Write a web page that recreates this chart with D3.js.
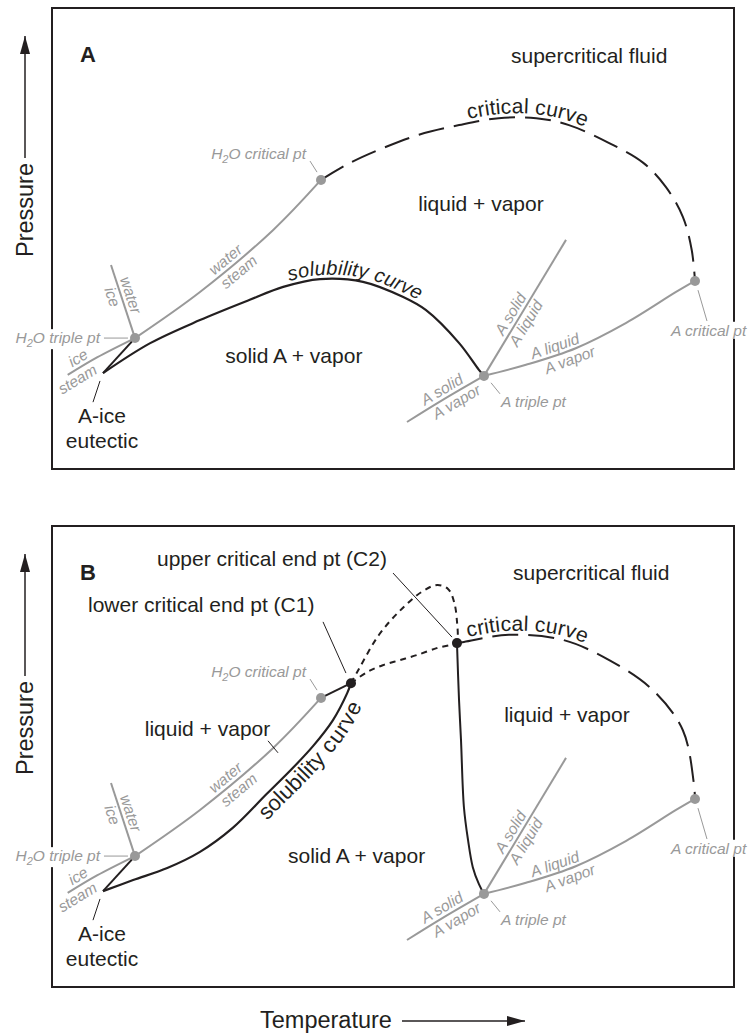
<!DOCTYPE html>
<html>
<head>
<meta charset="utf-8">
<script src="https://cdn.jsdelivr.net/npm/d3@7"></script>
<style>
  body { margin: 0; background: #fff; }
  text { font-family: "Liberation Sans", Arial, Helvetica, sans-serif; }
  .blk { fill: #231f20; font-size: 21px; }
  .grey { fill: #999; font-size: 15.5px; font-style: italic; }
</style>
</head>
<body>
<div id="chart"></div>
<script>

// T and P in arbitrary units (0-100)
// pure component points (same in both panels)
var h2oTriple = [12.17, 28.4];
var h2oCrit = [39.44, 62.7];
var aTriple = [63.34, 20.2];
var aCrit = [94.28, 40.8];
var eutectic = [7.48, 20.8];

// pure component phase boundaries (grey)
var iceSteam = [[2.3, 20.4], [6.6, 24.2], h2oTriple];
var iceWater = [[8.65, 44.25], h2oTriple];
var waterSteam = [h2oTriple, [21.7, 38.4], [32.4, 51.8], h2oCrit];
var aSolidVapor = [[52.05, 10.2], [57.3, 15.0], aTriple];
var aSolidLiquid = [aTriple, [75.37, 49.7]];
var aLiquidVapor = [aTriple, [69.5, 22.6], [76.8, 26.2], [84.2, 31.7], [91.5, 38.4], aCrit];

// binary curves, panel A
var iceMelting = [eutectic, h2oTriple];
var solubilityA = [eutectic, [14.4, 27.3], [21.7, 32.3], [29.0, 36.7], [33.9, 39.5], [39.3, 41.2],
  [45.6, 40.6], [51.5, 37.3], [54.8, 34.5], [59.7, 27.3], [62.6, 21.5], aTriple];
var criticalA = [h2oCrit, [43.7, 66.4], [48.5, 69.6], [53.8, 72.5], [59.7, 74.6], [65.5, 76.1],
  [71.0, 76.1], [75.8, 74.6], [81.7, 70.7], [86.7, 66.4], [90.0, 61.2], [92.5, 54.7], [93.8, 47.5], aCrit];

// binary curves, panel B
var c1 = [43.84, 65.9];
var c2 = [59.38, 74.6];
var h2oCritToC1 = [h2oCrit, c1];
var solubilityB = [eutectic, [11.9, 23.2], [16.9, 25.8], [21.7, 29.3], [26.5, 34.5], [31.5, 41.9],
  [35.3, 47.5], [38.3, 52.3], [41.2, 57.9], [43.3, 63.8], c1];
var loopB = [c1, [45.0, 69.0], [47.9, 76.3], [51.0, 81.6], [54.2, 85.7], [56.5, 87.2], [58.1, 86.3],
  [59.0, 83.3], [59.4, 79.0], [59.5, 76.0], c2];
var metastableB = [c1, [46.2, 68.3], [48.5, 69.8], [51.0, 70.9], [53.5, 72.0], [56.4, 73.5], [58.4, 74.2], c2];
var c2ToTriple = [c2, [59.68, 62.3], [59.97, 53.6], [60.4, 39.0], [61.0, 31.9], [61.7, 26.0], [62.6, 22.3], aTriple];
var criticalB = [c2, [60.2, 74.8], [67.0, 76.4], [74.9, 75.3], [81.7, 70.9], [88.1, 64.4], [92.5, 55.7], [94.1, 44.3], aCrit];

// labels
var lineLabels = [
  ["iceSteam", 0.23, "top", "ice"], ["iceSteam", 0.08, "bottom", "steam"],
  ["iceWater", 0.45, "top", "water"], ["iceWater", 0.40, "bottom", "ice"],
  ["waterSteam", 0.49, "top", "water"], ["waterSteam", 0.50, "bottom", "steam"],
  ["aSolidVapor", 0.52, "top", "A solid"], ["aSolidVapor", 0.59, "bottom", "A vapor"],
  ["aSolidLiquid", 0.42, "top", "A solid"], ["aSolidLiquid", 0.42, "bottom", "A liquid"],
  ["aLiquidVapor", 0.33, "top", "A liquid"], ["aLiquidVapor", 0.37, "bottom", "A vapor"]
];
var pointLabels = [
  ["H2O critical pt", 37.24, 67.2, "end", false],
  ["H2O triple pt", 7.04, 27.3, "end", true],
  ["A triple pt", 65.84, 13.4, "start", false],
  ["A critical pt", 90.76, 28.9, "start", true]
];
var greyLeaders = [
  [[37.83, 66.8], [38.86, 64.4]],
  [[7.62, 28.4], [11.14, 28.4]],
  [[64.37, 18.7], [65.69, 16.3]],
  [[94.72, 38.8], [96.04, 32.1]]
];
var eutecticLabels = [["A-ice", 7.33, 10.0], ["eutectic", 7.33, 4.56]];
var eutecticLeader = [[7.04, 19.1], [6.01, 14.5]];

var regionLabelsA = [
  ["supercritical fluid", 67.3, 88.1],
  ["liquid + vapor", 53.7, 56.0],
  ["solid A + vapor", 25.4, 23.0]
];
var regionLabelsB = [
  ["supercritical fluid", 67.6, 88.3],
  ["liquid + vapor", 66.3, 57.5],
  ["solid A + vapor", 34.6, 26.9],
  ["liquid + vapor", 13.6, 54.4],
  ["lower critical end pt (C1)", 5.28, 81.3],
  ["upper critical end pt (C2)", 15.4, 91.3]
];
var leadersB = [
  [[39.74, 79.2], [43.1, 68.1]],
  [[50.0, 89.8], [58.65, 75.9]],
  [[31.67, 53.4], [33.14, 50.8]]
];

var W = 752, H = 1034;
var frameW = 682, frameH = 461, frameLeft = 52;
var panelTops = [8, 526];
var GREY = "#999", BLACK = "#231f20";

var svg = d3.select("#chart").append("svg")
  .attr("width", W)
  .attr("height", H);

svg.append("defs").append("marker")
    .attr("id", "arrow")
    .attr("viewBox", "0 0 18 10")
    .attr("markerUnits", "userSpaceOnUse")
    .attr("markerWidth", 18)
    .attr("markerHeight", 10)
    .attr("refX", 18)
    .attr("refY", 5)
    .attr("orient", "auto")
  .append("path")
    .attr("d", "M0,0L18,5L0,10Z")
    .attr("fill", BLACK);

var x = d3.scaleLinear().domain([0, 100]).range([0, frameW]);
var y = d3.scaleLinear().domain([0, 100]).range([frameH, 0]);

var line = d3.line()
  .x(function(d) { return x(d[0]); })
  .y(function(d) { return y(d[1]); })
  .curve(d3.curveCatmullRom.alpha(0.5));

function lengthAtX(node, px) {
  var L = node.getTotalLength();
  for (var s = 0; s <= L; s += 0.5) {
    if (node.getPointAtLength(s).x >= px) return s;
  }
  return L / 2;
}

function greyText(g, str, tx, py, anchor) {
  var t = g.append("text")
    .attr("class", "grey")
    .attr("x", x(tx))
    .attr("y", y(py))
    .attr("text-anchor", anchor);
  if (str.indexOf("H2O") == 0) {
    t.append("tspan").text("H");
    t.append("tspan").attr("dy", 4).style("font-size", "11px").text("2");
    t.append("tspan").attr("dy", -4).text(str.slice(2));
  } else {
    t.text(str);
  }
  return t;
}

function drawPanel(idx) {
  var g = svg.append("g")
    .attr("transform", "translate(" + frameLeft + "," + panelTops[idx] + ")");

  // frame
  g.append("rect")
    .attr("width", frameW)
    .attr("height", frameH)
    .attr("fill", "none")
    .attr("stroke", BLACK)
    .attr("stroke-width", 2);

  // panel letter
  g.append("text")
    .attr("x", 28)
    .attr("y", 54)
    .style("font-size", "22px")
    .style("font-weight", "bold")
    .attr("fill", BLACK)
    .text(idx == 0 ? "A" : "B");

  // grey pure-component lines
  var greyLines = {iceSteam: iceSteam, iceWater: iceWater, waterSteam: waterSteam,
    aSolidVapor: aSolidVapor, aSolidLiquid: aSolidLiquid, aLiquidVapor: aLiquidVapor};
  var nodes = {};
  Object.keys(greyLines).forEach(function(k) {
    nodes[k] = g.append("path")
      .attr("d", line(greyLines[k]))
      .attr("fill", "none")
      .attr("stroke", GREY)
      .attr("stroke-width", 2)
      .node();
  });

  // black curves
  function blackPath(data, width, dash, id) {
    var p = g.append("path")
      .attr("d", line(data))
      .attr("fill", "none")
      .attr("stroke", BLACK)
      .attr("stroke-width", width);
    if (dash) p.attr("stroke-dasharray", dash);
    if (id) p.attr("id", id);
    return p.node();
  }

  var solNode, critNode;
  blackPath(iceMelting, 2);
  if (idx == 0) {
    solNode = blackPath(solubilityA, 2.2, null, "solA");
    critNode = blackPath(criticalA, 2, "26,10", "critA");
  } else {
    blackPath(h2oCritToC1, 2);
    solNode = blackPath(solubilityB, 2.2, null, "solB");
    blackPath(loopB, 2, "6,5");
    blackPath(metastableB, 2, "6,5");
    blackPath(c2ToTriple, 2);
    critNode = blackPath(criticalB, 2, "26,10", "critB");
  }

  // text on curves
  var ct = g.append("text").attr("class", "blk").attr("dy", -4);
  ct.append("textPath")
    .attr("href", "#" + critNode.id)
    .attr("startOffset", lengthAtX(critNode, x(69.6)))
    .attr("text-anchor", "middle")
    .text("critical curve");

  if (idx == 0) {
    var st = g.append("text").attr("class", "blk").attr("dy", -4)
      .style("font-size", "20px").style("font-style", "italic");
    st.append("textPath")
      .attr("href", "#solA")
      .attr("startOffset", lengthAtX(solNode, x(44.4)))
      .attr("text-anchor", "middle")
      .text("solubility curve");
  } else {
    var sb = g.append("text").attr("class", "blk").attr("dy", 19)
      .style("font-size", "22px");
    sb.append("textPath")
      .attr("href", "#solB")
      .attr("startOffset", lengthAtX(solNode, x(36.9)))
      .attr("text-anchor", "middle")
      .text("solubility curve");
  }

  // grey leaders and point labels
  greyLeaders.forEach(function(l) {
    g.append("line")
      .attr("x1", x(l[0][0])).attr("y1", y(l[0][1]))
      .attr("x2", x(l[1][0])).attr("y2", y(l[1][1]))
      .attr("stroke", GREY).attr("stroke-width", 1);
  });
  pointLabels.forEach(function(d) {
    var t = greyText(g, d[0], d[1], d[2], d[3]);
    if (d[4]) {
      var b = t.node().getBBox();
      g.insert("rect", function() { return t.node(); })
        .attr("x", b.x - 2).attr("y", b.y)
        .attr("width", b.width + 4).attr("height", b.height)
        .attr("fill", "#fff");
    }
  });

  // labels along the grey lines
  lineLabels.forEach(function(d) {
    var node = nodes[d[0]];
    var L = node.getTotalLength();
    var p = node.getPointAtLength(d[1] * L);
    var q = node.getPointAtLength(Math.min(L, d[1] * L + 2));
    if (q.x == p.x && q.y == p.y) { q = p; p = node.getPointAtLength(d[1] * L - 2); }
    var a = Math.atan2(q.y - p.y, q.x - p.x) * 180 / Math.PI;
    g.append("text")
      .attr("class", "grey")
      .attr("text-anchor", "middle")
      .attr("transform", "translate(" + p.x + "," + p.y + ") rotate(" + a + ")")
      .attr("y", d[2] == "top" ? -4 : 14)
      .text(d[3]);
  });

  // dots
  [h2oTriple, h2oCrit, aTriple, aCrit].forEach(function(d) {
    g.append("circle").attr("cx", x(d[0])).attr("cy", y(d[1])).attr("r", 5).attr("fill", GREY);
  });
  if (idx == 1) {
    [c1, c2].forEach(function(d) {
      g.append("circle").attr("cx", x(d[0])).attr("cy", y(d[1])).attr("r", 5).attr("fill", BLACK);
    });
  }

  // black labels
  eutecticLabels.forEach(function(d) {
    g.append("text").attr("class", "blk")
      .attr("x", x(d[1])).attr("y", y(d[2]))
      .attr("text-anchor", "middle")
      .text(d[0]);
  });
  var blackLeaders = [eutecticLeader].concat(idx == 1 ? leadersB : []);
  blackLeaders.forEach(function(l) {
    g.append("line")
      .attr("x1", x(l[0][0])).attr("y1", y(l[0][1]))
      .attr("x2", x(l[1][0])).attr("y2", y(l[1][1]))
      .attr("stroke", BLACK).attr("stroke-width", 1);
  });
  (idx == 0 ? regionLabelsA : regionLabelsB).forEach(function(d) {
    g.append("text").attr("class", "blk")
      .attr("x", x(d[1])).attr("y", y(d[2]))
      .text(d[0]);
  });

  // pressure axis title
  var py = panelTops[idx];
  svg.append("text")
    .attr("class", "blk")
    .style("font-size", "23.5px")
    .attr("text-anchor", "middle")
    .attr("transform", "translate(33," + (py + 202) + ") rotate(-90)")
    .text("Pressure");
  svg.append("line")
    .attr("x1", 25).attr("y1", py + 150)
    .attr("x2", 25).attr("y2", py + 28)
    .attr("stroke", BLACK).attr("stroke-width", 1.5)
    .attr("marker-end", "url(#arrow)");
}

drawPanel(0);
drawPanel(1);

// temperature axis title
svg.append("text")
  .attr("class", "blk")
  .style("font-size", "23.5px")
  .attr("x", 260)
  .attr("y", 1028)
  .text("Temperature");
svg.append("line")
  .attr("x1", 402).attr("y1", 1021)
  .attr("x2", 525).attr("y2", 1021)
  .attr("stroke", BLACK).attr("stroke-width", 1.5)
  .attr("marker-end", "url(#arrow)");

</script>
</body>
</html>
